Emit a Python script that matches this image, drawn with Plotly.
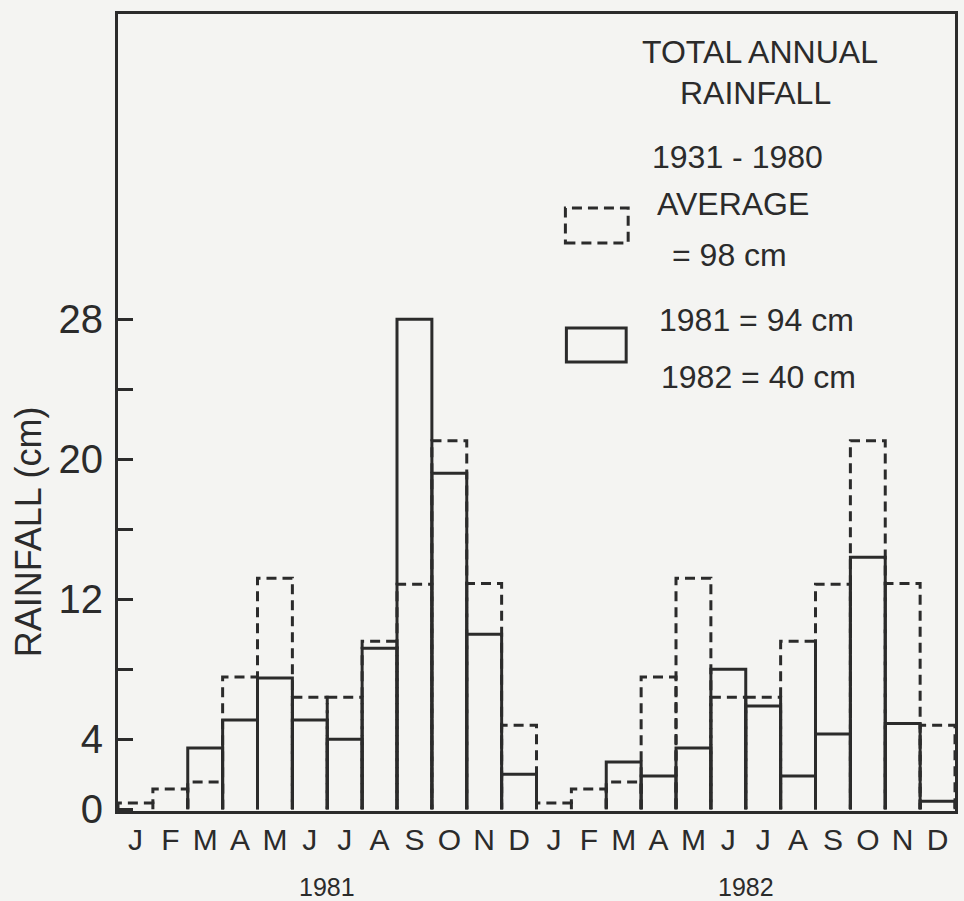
import plotly.graph_objects as go

# ---------------- data ----------------
months = ["J", "F", "M", "A", "M", "J", "J", "A", "S", "O", "N", "D"]
years = ["1981", "1982"]
avg_1931_1980 = [0.35, 1.15, 1.55, 7.55, 13.2, 6.4, 6.4, 9.6, 12.85, 21.05, 12.9, 4.8]
rain_1981 = [0.0, 0.0, 3.5, 5.1, 7.5, 5.1, 4.0, 9.2, 28.0, 19.2, 10.0, 2.0]
rain_1982 = [0.0, 0.0, 2.7, 1.9, 3.5, 8.0, 5.9, 1.9, 4.3, 14.4, 4.9, 0.45]
y_tick_values = [0, 4, 8, 12, 16, 20, 24, 28]
y_tick_labels = ["0", "4", "", "12", "", "20", "", "28"]
legend_title = ["TOTAL ANNUAL", "RAINFALL"]
legend_avg = ["1931 - 1980", "AVERAGE", "= 98 cm"]
legend_actual = ["1981 = 94 cm", "1982 = 40 cm"]

INK = "#2b2b2b"
BG = "#f4f4f2"
FONT = "Liberation Sans"

# plot-area geometry in pixels (for placing legend decorations)
L, R, T, B = 118, 958, 14, 811


def px_x(p):
    return (p - L) / (R - L)


def px_y(p):
    return (B - p) / (B - T)


def outline(values):
    xs, ys = [], []
    for i, v in enumerate(values):
        if v <= 0:
            continue
        xs += [i, i, i + 1, i + 1, None]
        ys += [0, v, v, 0, None]
    return xs, ys


avg_all = avg_1931_1980 * 2
actual_all = rain_1981 + rain_1982

fig = go.Figure()
ax, ay = outline(avg_all)
fig.add_trace(go.Scatter(x=ax, y=ay, mode="lines",
                         line=dict(color=INK, width=3, dash="10px,6px"),
                         hoverinfo="skip", showlegend=False))
sx, sy = outline(actual_all)
fig.add_trace(go.Scatter(x=sx, y=sy, mode="lines",
                         line=dict(color=INK, width=3),
                         hoverinfo="skip", showlegend=False))

tick_pos = [i + 0.5 for i in range(24)]
tick_txt = months * 2

fig.update_xaxes(range=[0, 24], tickvals=tick_pos, ticktext=tick_txt,
                 showgrid=False, zeroline=False, showline=True, mirror=True,
                 linecolor=INK, linewidth=3, ticks="",
                 tickfont=dict(family=FONT, size=30, color=INK),
                 ticklabelstandoff=0)
fig.update_yaxes(range=[-0.1, 45.44], tickvals=y_tick_values, ticktext=y_tick_labels,
                 showgrid=False, zeroline=False, showline=True, mirror=True,
                 linecolor=INK, linewidth=3, ticks="inside", ticklen=15,
                 tickwidth=3, tickcolor=INK,
                 tickfont=dict(family=FONT, size=40, color=INK),
                 ticklabelstandoff=4)

annotations = []
# year labels under month groups
for k, yr in enumerate(years):
    annotations.append(dict(x=6 + 12 * k, y=px_y(887), xref="x", yref="paper",
                            text=yr, showarrow=False, xanchor="center", yanchor="middle",
                            font=dict(family=FONT, size=25, color=INK)))
# y-axis title
annotations.append(dict(x=px_x(28), y=px_y(532), xref="paper", yref="paper",
                        text="RAINFALL (cm)", textangle=-90, showarrow=False,
                        xanchor="center", yanchor="middle",
                        font=dict(family=FONT, size=36, color=INK)))
# legend block
for txt, cx, cy in zip(legend_title, [762, 758], [52, 93]):
    annotations.append(dict(x=px_x(cx), y=px_y(cy), xref="paper", yref="paper",
                            text=txt, showarrow=False, xanchor="center", yanchor="middle",
                            font=dict(family=FONT, size=32, color=INK)))
for txt, lx, cy in zip(legend_avg + legend_actual,
                       [652, 657, 672, 659, 661],
                       [157, 204, 255, 320, 377]):
    annotations.append(dict(x=px_x(lx), y=px_y(cy), xref="paper", yref="paper",
                            text=txt, showarrow=False, xanchor="left", yanchor="middle",
                            font=dict(family=FONT, size=32, color=INK)))

shapes = [
    dict(type="rect", xref="paper", yref="paper",
         x0=px_x(567), x1=px_x(630), y0=px_y(243), y1=px_y(208),
         line=dict(color=INK, width=3, dash="10px,6px")),
    dict(type="rect", xref="paper", yref="paper",
         x0=px_x(568), x1=px_x(628), y0=px_y(362), y1=px_y(328),
         line=dict(color=INK, width=3)),
]

fig.update_layout(width=964, height=901,
                  margin=dict(l=L, r=964 - R, t=T, b=901 - B),
                  paper_bgcolor=BG, plot_bgcolor=BG,
                  annotations=annotations, shapes=shapes,
                  showlegend=False)

fig.write_html("out.html",
               config={"displayModeBar": False, "staticPlot": True},
               post_script="document.body.style.margin='0';"
                           "document.body.style.background='%s';" % BG)
